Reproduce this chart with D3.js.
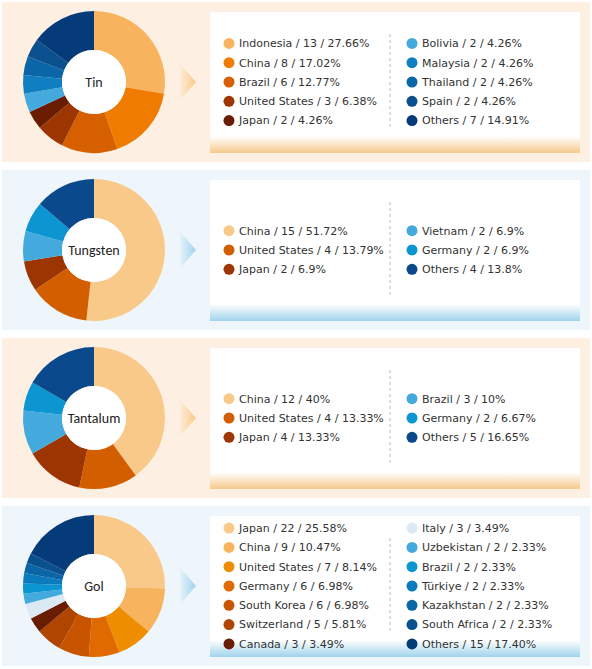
<!DOCTYPE html>
<html><head><meta charset="utf-8">
<script src="https://cdn.jsdelivr.net/npm/d3@7"></script>
<style>body{margin:0;background:#fff;font-family:"DejaVu Sans",sans-serif}</style>
</head><body><svg id="c" width="592" height="669"></svg>
<script>
// data per panel
const tinNames = ['Indonesia', 'China', 'Brazil', 'United States', 'Japan', 'Bolivia', 'Malaysia', 'Thailand', 'Spain', 'Others'];
const tinCounts = [13, 8, 6, 3, 2, 2, 2, 2, 2, 7];
const tinPcts = ['27.66%', '17.02%', '12.77%', '6.38%', '4.26%', '4.26%', '4.26%', '4.26%', '4.26%', '14.91%'];
const tinColors = ['#f7b35e', '#ef7b00', '#d65f00', '#9c3500', '#6a1c00', '#44a9dc', '#0f7fc1', '#0a66a6', '#0a508f', '#063b7a'];

const wNames = ['China', 'United States', 'Japan', 'Vietnam', 'Germany', 'Others'];
const wCounts = [15, 4, 2, 2, 2, 4];
const wPcts = ['51.72%', '13.79%', '6.9%', ' 6.9%', ' 6.9%', '13.8%'];
const wColors = ['#f9c98a', '#d35e00', '#9c3500', '#44a9dc', '#0b96d2', '#0a4a8c'];

const taNames = ['China', 'United States', 'Japan', 'Brazil', 'Germany', 'Others'];
const taCounts = [12, 4, 4, 3, 2, 5];
const taPcts = ['40%', '13.33%', '13.33%', '10%', '6.67%', '16.65%'];
const taColors = wColors;

const gNames = ['Japan', 'China', 'United States', 'Germany', 'South Korea', 'Switzerland', 'Canada', 'Italy', 'Uzbekistan', 'Brazil', 'Türkiye', 'Kazakhstan', 'South Africa', 'Others'];
const gCounts = [22, 9, 7, 6, 6, 5, 3, 3, 2, 2, 2, 2, 2, 15];
const gPcts = ['25.58%', ' 10.47%', '8.14%', '6.98%', '6.98%', '5.81%', '3.49%', '3.49%', '2.33%', '2.33%', '2.33%', '2.33%', '2.33%', '17.40%'];
const gColors = ['#f9c98a', '#f7b35e', '#ef8d00', '#e06a00', '#c85400', '#b04500', '#6a1c00', '#dbe9f5', '#44a9dc', '#0b96d2', '#0a7cbd', '#0a66a6', '#0a508f', '#063b7a'];

const panels = [
  {title: 'Tin', names: tinNames, counts: tinCounts, pcts: tinPcts, colors: tinColors, left: 5, warm: true},
  {title: 'Tungsten', names: wNames, counts: wCounts, pcts: wPcts, colors: wColors, left: 3, warm: false},
  {title: 'Tantalum', names: taNames, counts: taCounts, pcts: taPcts, colors: taColors, left: 3, warm: true},
  {title: 'Gol', names: gNames, counts: gCounts, pcts: gPcts, colors: gColors, left: 7, warm: false}
];

const svg = d3.select('#c');
const defs = svg.append('defs');
[['warm', '#f7c98a'], ['cool', '#9fd3ec']].forEach(([id, col]) => {
  const g = defs.append('linearGradient').attr('id', 'fb-' + id).attr('x1', 0).attr('x2', 0).attr('y1', 0).attr('y2', 1);
  g.append('stop').attr('offset', '0.88').attr('stop-color', '#fff');
  g.append('stop').attr('offset', '1').attr('stop-color', col);
  const a = defs.append('linearGradient').attr('id', 'ar-' + id);
  a.append('stop').attr('offset', '0').attr('stop-color', col).attr('stop-opacity', 0.1);
  a.append('stop').attr('offset', '1').attr('stop-color', col);
});

const pie = d3.pie().sort(null).value(d => d);
const arc = d3.arc().innerRadius(32).outerRadius(71);

panels.forEach((p, i) => {
  const y0 = 2 + i * 168;
  const key = p.warm ? 'warm' : 'cool';
  const g = svg.append('g').attr('transform', `translate(0,${y0})`);
  g.append('rect').attr('x', 2).attr('width', 588).attr('height', 160).attr('fill', p.warm ? '#fdf0e2' : '#eef6fb');

  const pg = g.append('g').attr('transform', 'translate(94,80)');
  pg.selectAll('path').data(pie(p.counts)).join('path')
    .attr('d', arc).attr('fill', (d, j) => p.colors[j]);
  pg.append('circle').attr('r', 32).attr('fill', '#fff');
  pg.append('text').attr('text-anchor', 'middle').attr('dy', '0.35em')
    .style('font-family', 'Calibri, "Liberation Sans", sans-serif').style('font-size', '14px').attr('fill', '#222').text(p.title);

  g.append('path').attr('d', 'M180,62 L196,80 L180,98 Z').attr('fill', `url(#ar-${key})`);

  g.append('rect').attr('x', 210).attr('y', 10).attr('width', 370).attr('height', 141).attr('fill', `url(#fb-${key})`);
  g.append('line').attr('x1', 390).attr('x2', 390).attr('y1', 32).attr('y2', 128)
    .attr('stroke', '#bbb').attr('stroke-dasharray', '3,3');

  const rows = p.left;
  const step = 19.3;
  const top = 80 - (rows - 1) * step / 2;
  p.names.forEach((nm, j) => {
    const col = j < p.left ? 0 : 1;
    const r = col ? j - p.left : j;
    const x = col ? 412 : 229, y = top + r * step;
    g.append('circle').attr('cx', x).attr('cy', y).attr('r', 5.5).attr('fill', p.colors[j]);
    g.append('text').attr('x', x + 10).attr('y', y).attr('dy', '0.35em')
      .style('font-size', '11px').attr('fill', '#333')
      .text(`${nm} / ${p.counts[j]} / ${p.pcts[j]}`);
  });
});
</script></body></html>
